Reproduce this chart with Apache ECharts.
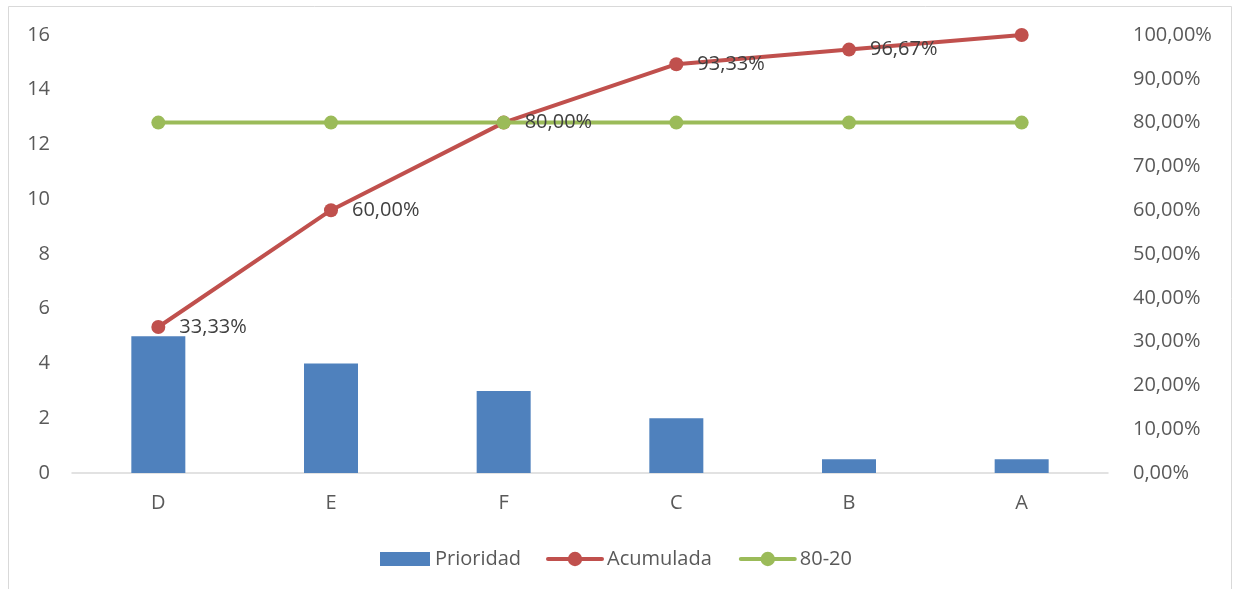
<!DOCTYPE html>
<html>
<head>
<meta charset="utf-8">
<script src="https://cdn.jsdelivr.net/npm/echarts@6/dist/echarts.min.js"></script>
<style>
html,body{margin:0;padding:0;background:#fff;}
#c{width:1234px;height:589px;}
</style>
</head>
<body>
<div id="c"></div>
<script>
const categories = ['D', 'E', 'F', 'C', 'B', 'A'];
const prioridad = [5, 4, 3, 2, 0.5, 0.5];
const acumulada = [0.3333, 0.6, 0.8, 0.9333, 0.9667, 1.0];
const linea8020 = [0.8, 0.8, 0.8, 0.8, 0.8, 0.8];

const FONT = '"Open Sans", "Liberation Sans", sans-serif';
const TXT = '#595959';
const pct = v => (v * 100).toFixed(2).replace('.', ',') + '%';

const chart = echarts.init(document.getElementById('c'), null, {renderer: 'canvas'});
chart.setOption({
  animation: false,
  backgroundColor: '#ffffff',
  textStyle: {fontFamily: FONT},
  graphic: [{
    type: 'rect',
    shape: {x: 8.5, y: 6.5, width: 1223, height: 600},
    style: {fill: 'none', stroke: '#d9d9d9', lineWidth: 1},
    silent: true, z: -1
  }],
  grid: {left: 72, right: 126, top: 35, bottom: 116, containLabel: false},
  legend: [{
    top: 544,
    left: 375,
    itemWidth: 50,
    itemHeight: 14,
    icon: 'rect',
    textStyle: {fontFamily: FONT, fontSize: 20, color: TXT},
    data: ['Prioridad']
  }, {
    top: 544,
    left: 541,
    itemWidth: 54,
    itemHeight: 18,
    itemGap: 27,
    lineStyle: {width: 4, cap: 'round'},
    textStyle: {fontFamily: FONT, fontSize: 20, color: TXT},
    data: ['Acumulada', '80-20']
  }],
  xAxis: {
    type: 'category',
    data: categories,
    axisLine: {show: true, lineStyle: {color: '#d9d9d9', width: 1.5}},
    axisTick: {show: false},
    axisLabel: {fontFamily: FONT, fontSize: 20, color: TXT, margin: 20}
  },
  yAxis: [{
    type: 'value', min: 0, max: 16, interval: 2,
    splitLine: {show: false},
    axisLine: {show: false}, axisTick: {show: false},
    axisLabel: {fontFamily: FONT, fontSize: 20, color: TXT, margin: 22}
  }, {
    type: 'value', min: 0, max: 1, interval: 0.1,
    splitLine: {show: false},
    axisLine: {show: false}, axisTick: {show: false},
    axisLabel: {fontFamily: FONT, fontSize: 20, color: TXT, margin: 25, formatter: pct}
  }],
  series: [{
    name: 'Prioridad',
    type: 'bar',
    data: prioridad,
    barWidth: 54,
    itemStyle: {color: '#4f81bd'}
  }, {
    name: 'Acumulada',
    type: 'line',
    yAxisIndex: 1,
    data: acumulada,
    symbol: 'circle', symbolSize: 14,
    lineStyle: {color: '#c0504d', width: 4},
    itemStyle: {color: '#c0504d'},
    z: 3
  }, {
    name: '80-20',
    type: 'line',
    yAxisIndex: 1,
    data: linea8020,
    symbol: 'circle', symbolSize: 14,
    lineStyle: {color: '#9bbb59', width: 4},
    itemStyle: {color: '#9bbb59'},
    z: 4
  }, {
    name: 'Acumulada etiquetas',
    type: 'scatter',
    yAxisIndex: 1,
    data: acumulada,
    symbol: 'circle', symbolSize: 14,
    itemStyle: {color: 'rgba(0,0,0,0)', opacity: 1},
    silent: true,
    z: 5,
    label: {
      show: true, position: 'right', distance: 14, opacity: 1,
      fontFamily: FONT, fontSize: 20, color: '#404040',
      formatter: p => p.dataIndex === acumulada.length - 1 ? '' : pct(p.value)
    }
  }]
});
</script>
</body>
</html>
